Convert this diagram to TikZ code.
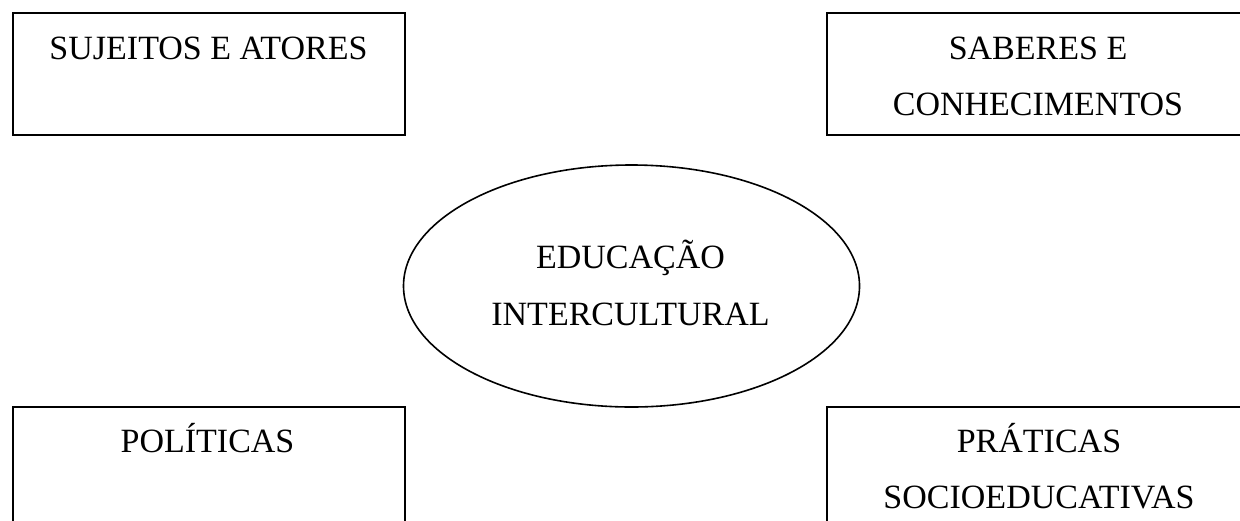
\documentclass[tikz,border=0pt]{standalone}
\usepackage{fontspec}
\setmainfont{Liberation Serif}
\usetikzlibrary{shapes.geometric}
\begin{document}
\begin{tikzpicture}[x=0.5pt,y=-0.5pt,
  box/.style={draw, line width=1pt, minimum width=196pt, minimum height=61pt, inner sep=0pt},
  widebox/.style={box, minimum width=211pt},
  lbl/.style={anchor=base, inner sep=0pt, font=\fontsize{17}{20}\selectfont},
  oval/.style={ellipse, draw, line width=0.8pt, minimum width=228pt, minimum height=121pt, inner sep=0pt}]
\useasboundingbox (0,0) rectangle (1240,520);
\clip (0,0) rectangle (1240,520);
\node[box] (b1) at (208.75,74) {};
\node[widebox] (b2) at (1038,74) {};
\node[box] (b3) at (208.75,468) {};
\node[widebox] (b4) at (1038,468) {};
\node[oval] (e) at (631.5,286) {};
\node[lbl] (t1) at (208.5,59) {SUJEITOS E ATORES};
\node[lbl] (t2a) at (1038,59) {SABERES E};
\node[lbl] (t2b) at (1038,115) {CONHECIMENTOS};
\node[lbl] (t3) at (207.5,452) {POLÍTICAS};
\node[lbl] (t4a) at (1039,452) {PRÁTICAS};
\node[lbl] (t4b) at (1039,508) {SOCIOEDUCATIVAS};
\node[lbl] (t5a) at (630.5,268) {EDUCAÇÃO};
\node[lbl] (t5b) at (630.5,325) {INTERCULTURAL};
\end{tikzpicture}
\end{document}
